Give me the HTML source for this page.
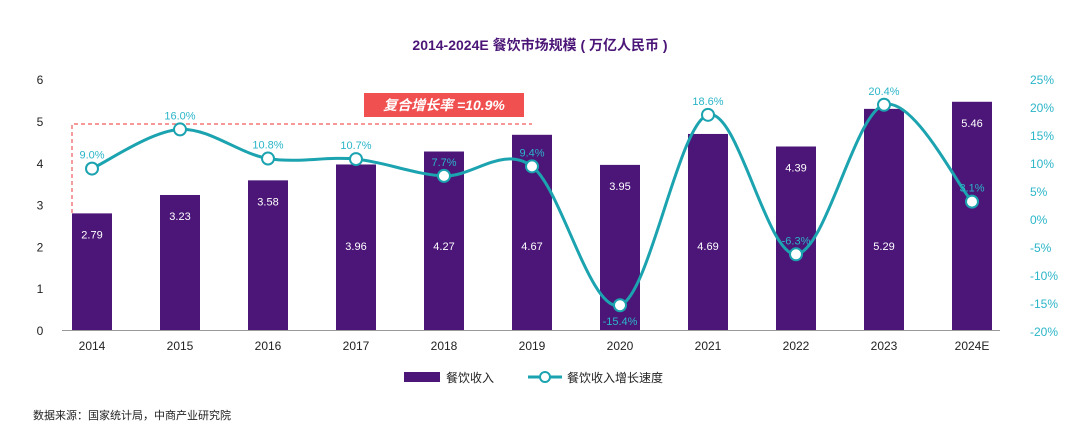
<!DOCTYPE html>
<html><head><meta charset="utf-8"><style>
body{margin:0;background:#fff;width:1080px;height:443px;overflow:hidden;font-family:"Liberation Sans","Noto Sans CJK SC",sans-serif}
svg text{font-family:"Liberation Sans","Noto Sans CJK SC",sans-serif}
</style></head><body>
<svg id="chart" width="1080" height="443" viewBox="0 0 1080 443" xmlns="http://www.w3.org/2000/svg">
<text x="540" y="50" text-anchor="middle" font-size="14" font-weight="bold" fill="#4b1677">2014-2024E 餐饮市场规模 ( 万亿人民币 )</text>
<path d="M72,213 V124 H532" fill="none" stroke="#f05a5a" stroke-width="1.2" stroke-dasharray="4,3"/>
<rect x="364" y="93" width="160" height="24" fill="#f0504f"/>
<text x="444" y="110" text-anchor="middle" font-size="14" font-weight="bold" font-style="italic" fill="#fff">复合增长率 =10.9%</text>
<g id="axes"></g><g id="bars"></g><g id="line"></g>
<g>
<rect x="404" y="372" width="36" height="10" fill="#4b1677"/>
<text x="446" y="382" font-size="12" fill="#222">餐饮收入</text>
<line x1="528" y1="377" x2="562" y2="377" stroke="#1ba3b0" stroke-width="3"/>
<circle cx="545" cy="377" r="5" fill="#fff" stroke="#1ba3b0" stroke-width="2"/>
<text x="567" y="382" font-size="12" fill="#222">餐饮收入增长速度</text>
</g>
<text x="33" y="419" font-size="11" fill="#222">数据来源：国家统计局，中商产业研究院</text>
</svg>
<script>
const categories=["2014","2015","2016","2017","2018","2019","2020","2021","2022","2023","2024E"];
const revenue=[2.79,3.23,3.58,3.96,4.27,4.67,3.95,4.69,4.39,5.29,5.46];
const growth=[9.0,16.0,10.8,10.7,7.7,9.4,-15.4,18.6,-6.3,20.4,3.1];
const labelPos=["top","top","top","mid","mid","mid","top","mid","top","mid","top"];
const leftTicks=[0,1,2,3,4,5,6];
const rightTicks=[-20,-15,-10,-5,0,5,10,15,20,25];
const NS="http://www.w3.org/2000/svg";
const yL=v=>330-v*41.8;
const yR=v=>219-v*5.6;
const xC=i=>92+i*88;
function mk(tag,attrs,parent,txt){const e=document.createElementNS(NS,tag);for(const k in attrs)e.setAttribute(k,attrs[k]);if(txt!==undefined)e.textContent=txt;parent.appendChild(e);return e;}
const axes=document.getElementById('axes'),bars=document.getElementById('bars'),line=document.getElementById('line');
leftTicks.forEach(t=>{const e=mk('text',{x:40,y:yL(t)+5,'text-anchor':'middle','font-size':12,fill:'#222'},axes,String(t));

});
rightTicks.forEach(t=>{const e=mk('text',{x:1030,y:yR(t)+5,'font-size':12,fill:'#2bb5c8'},axes,t+'%');

});
const ax=mk('line',{x1:62,y1:330.5,x2:1000,y2:330.5,stroke:'#999','stroke-width':1},axes);


categories.forEach((c,i)=>{
const e=mk('text',{x:xC(i),y:350,'text-anchor':'middle','font-size':12,fill:'#222'},axes,c);


const top=yL(revenue[i]);
const b=mk('rect',{x:xC(i)-20,y:top,width:40,height:330-top,fill:'#4b1677'},bars);


const ly=labelPos[i]==='top'?top+25:250;
const t=mk('text',{x:xC(i),y:ly,'text-anchor':'middle','font-size':11,fill:'#fff'},bars,revenue[i].toFixed(2));


});
const pts=growth.map((g,i)=>[xC(i),yR(g)]);
let d='M'+pts[0][0]+','+pts[0][1];
for(let i=0;i<pts.length-1;i++){const p0=pts[i-1]||pts[i],p1=pts[i],p2=pts[i+1],p3=pts[i+2]||p2;
d+=` C${p1[0]+(p2[0]-p0[0])/6},${p1[1]+(p2[1]-p0[1])/6} ${p2[0]-(p3[0]-p1[0])/6},${p2[1]-(p3[1]-p1[1])/6} ${p2[0]},${p2[1]}`;}
const pl=mk('path',{d:d,fill:'none',stroke:'#1ba3b0','stroke-width':3},line);


pts.forEach((p,i)=>{
const c=mk('circle',{cx:p[0],cy:p[1],r:6,fill:'#fff',stroke:'#1ba3b0','stroke-width':2},line);


const below=growth[i]<-10;
const t=mk('text',{x:p[0],y:below?p[1]+20:p[1]-10,'text-anchor':'middle','font-size':11,fill:'#2bb5c8'},line,growth[i].toFixed(1)+'%');


});
</script>
</body></html>
